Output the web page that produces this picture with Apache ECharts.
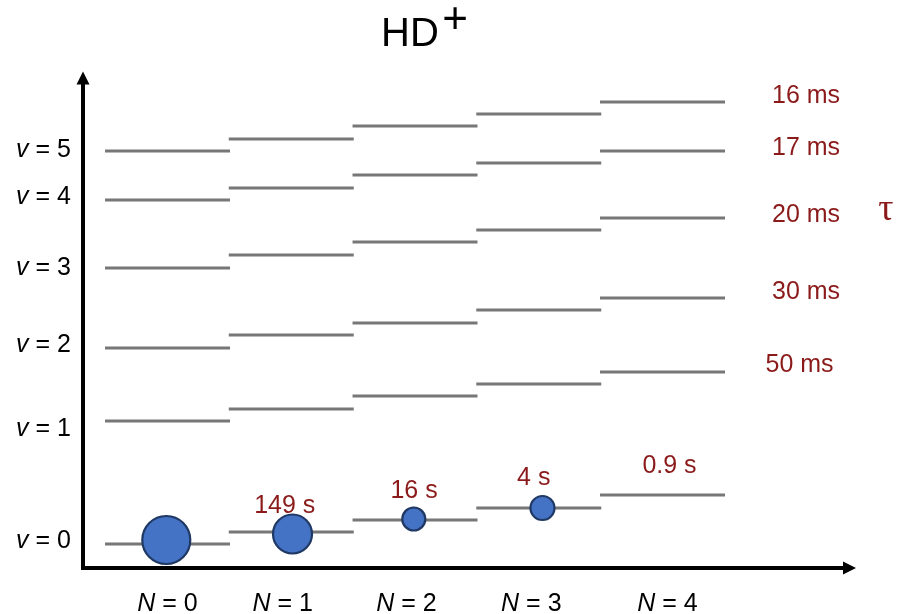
<!DOCTYPE html>
<html>
<head>
<meta charset="utf-8">
<script src="https://cdn.jsdelivr.net/npm/echarts@6/dist/echarts.min.js"></script>
<style>
  html, body { margin: 0; padding: 0; background: #fff; }
  #chart { width: 898px; height: 614px; }
</style>
</head>
<body>
<div id="chart"></div>
<script>
// Rotational quantum number of each column of levels
const rotN = [0, 1, 2, 3, 4];
const rotTickLabels = ['N = 0', 'N = 1', 'N = 2', 'N = 3', 'N = 4'];
const rotTickPos = [0.00, 0.93, 1.93, 2.94, 4.04];

// Level energies (arbitrary units above the axis), one entry per N
const levelV0 = [24, 36, 48, 60, 73];
const levelV1 = [147, 159, 172, 184, 196];
const levelV2 = [220, 233, 245, 258, 270];
const levelV3 = [300, 313, 326, 338, 350];
const levelV4 = [368, 380, 393, 405, 417];
const levelV5 = [417, 429, 442, 454, 466];

// Vibrational tick labels on the energy axis
const vibTickLabels = ['v = 0', 'v = 1', 'v = 2', 'v = 3', 'v = 4', 'v = 5'];
const vibTickPos = [27, 139, 223, 300, 371, 418];

// Radiative lifetimes: rotational levels of v = 0, and v = 1..5 levels
const rotLifetimes = ['', '149 s', '16 s', '4 s', '0.9 s'];
const vibLifetimes = ['50 ms', '30 ms', '20 ms', '17 ms', '16 ms'];

// Thermal population markers in v = 0
const popN = [-0.01, 1.01, 1.99, 3.03];
const popE = [28, 34, 49, 60];
const popDiameter = [48, 39, 23, 24];

// ---- layout / styling ----
const FONT = '"Liberation Sans", Arial, sans-serif';
const RED = '#8b1a1a';
const HALF_WIDTH = 0.505;
const rotLabelNudge = [[0, 0], [-6.5, -26], [-1, -29], [-5, -29.5], [7, -29]];
const vibLabelNudge = [[137, -7], [143.5, -6], [143.5, -3], [143.5, -3], [143.5, -6]];

const allLevels = [levelV0, levelV1, levelV2, levelV3, levelV4, levelV5];
const levelData = [];
allLevels.forEach(arr => rotN.forEach((n, i) => levelData.push([n, arr[i]])));

const rotLabelData = rotN.map((n, i) => ({
  value: [n, levelV0[i]],
  label: { formatter: rotLifetimes[i], offset: rotLabelNudge[i] }
})).filter((d, i) => rotLifetimes[i] !== '');

const vibLabelData = vibLifetimes.map((t, k) => ({
  value: [rotN[4], allLevels[k + 1][4]],
  label: { formatter: t, offset: vibLabelNudge[k] }
}));

function nearestIndex(arr, v) {
  let best = 0;
  arr.forEach((p, i) => { if (Math.abs(p - v) < Math.abs(arr[best] - v)) best = i; });
  return best;
}

const chart = echarts.init(document.getElementById('chart'), null, { renderer: 'canvas' });

const axisLineStyle = { color: '#000', width: 4, cap: 'square' };
const tickRich = {
  i: { fontSize: 25, fontStyle: 'italic', color: '#000', fontFamily: FONT },
  r: { fontSize: 25, color: '#000', fontFamily: FONT }
};
const lifetimeLabel = { show: true, position: 'inside', color: RED, opacity: 1, fontSize: 25, fontFamily: FONT };

chart.setOption({
  animation: false,
  backgroundColor: '#fff',
  textStyle: { fontFamily: FONT },
  grid: { left: 83, right: 48.5, top: 78, bottom: 46, containLabel: false, outerBoundsMode: 'none' },
  xAxis: {
    type: 'value', min: -0.683, max: 5.511,
    axisLine: { show: true, onZero: false, symbol: ['none', 'triangle'], symbolSize: [13, 13], lineStyle: axisLineStyle },
    axisTick: { show: false },
    splitLine: { show: false },
    axisLabel: {
      customValues: rotTickPos,
      margin: 24,
      formatter: v => {
        const s = rotTickLabels[nearestIndex(rotTickPos, v)];
        return '{i|' + s.charAt(0) + '}{r|' + s.slice(1) + '}';
      },
      rich: tickRich
    }
  },
  yAxis: {
    type: 'value', min: 0, max: 490,
    axisLine: { show: true, onZero: false, symbol: ['none', 'triangle'], symbolSize: [13, 13], lineStyle: axisLineStyle },
    axisTick: { show: false },
    splitLine: { show: false },
    axisLabel: {
      customValues: vibTickPos,
      margin: 12,
      formatter: v => {
        const s = vibTickLabels[nearestIndex(vibTickPos, v)];
        return '{i|' + s.charAt(0) + '}{r|' + s.slice(1) + '}';
      },
      rich: tickRich
    }
  },
  graphic: [
    { type: 'text', z: 10, style: { text: 'HD', x: 381, y: 35, font: '40px ' + FONT, fill: '#000', align: 'left', verticalAlign: 'middle' } },
    { type: 'text', z: 10, style: { text: '+', x: 455, y: 21, font: '44px ' + FONT, fill: '#000', align: 'center', verticalAlign: 'middle' } },
    { type: 'text', z: 10, style: { text: 'τ', x: 886, y: 210, font: '38px "Liberation Serif", "Times New Roman", serif', fill: RED, align: 'center', verticalAlign: 'middle' } }
  ],
  series: [
    {
      type: 'custom',
      name: 'levels',
      data: levelData,
      z: 2,
      renderItem: (params, api) => {
        const n = api.value(0), e = api.value(1);
        const p1 = api.coord([n - HALF_WIDTH, e]);
        const p2 = api.coord([n + HALF_WIDTH, e]);
        return {
          type: 'line',
          shape: { x1: p1[0], y1: p1[1], x2: p2[0], y2: p2[1] },
          style: { stroke: '#777777', lineWidth: 3 }
        };
      }
    },
    {
      type: 'scatter',
      name: 'population',
      z: 5,
      clip: false,
      data: popN.map((n, i) => [n, popE[i], popDiameter[i]]),
      symbolSize: v => v[2],
      itemStyle: { color: '#4472c4', borderColor: '#1f3864', borderWidth: 2.2, opacity: 1 }
    },
    {
      type: 'scatter',
      name: 'rotational lifetimes',
      z: 6,
      clip: false,
      symbolSize: 1,
      itemStyle: { color: 'transparent', opacity: 1 },
      data: rotLabelData,
      label: lifetimeLabel
    },
    {
      type: 'scatter',
      name: 'vibrational lifetimes',
      z: 6,
      clip: false,
      symbolSize: 1,
      itemStyle: { color: 'transparent', opacity: 1 },
      data: vibLabelData,
      label: lifetimeLabel
    }
  ]
});
</script>
</body>
</html>
